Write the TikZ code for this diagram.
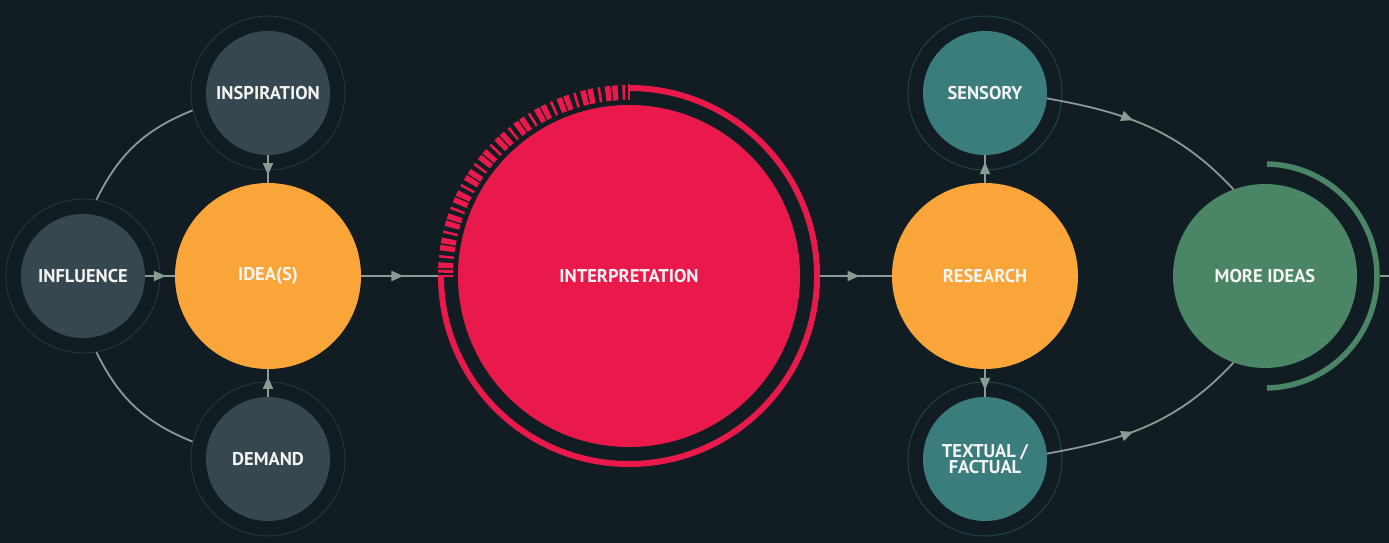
\documentclass[tikz,border=0pt]{standalone}
\usepackage{fontspec}
\setmainfont{PT Sans}
\usetikzlibrary{arrows.meta,decorations.markings}
\definecolor{bg}{HTML}{111D23}
\definecolor{greyc}{HTML}{374750}
\definecolor{orangec}{HTML}{F9A53A}
\definecolor{redc}{HTML}{E91A4B}
\definecolor{tealc}{HTML}{3B7D7C}
\definecolor{greenc}{HTML}{4A8566}
\definecolor{lin}{HTML}{8A9B93}
\definecolor{txt}{HTML}{F4F4F2}
\definecolor{hgrey}{HTML}{27353C}
\definecolor{hteal}{HTML}{1F4448}
\begin{document}
\begin{tikzpicture}[x=1pt,y=1pt,
  lbl/.style={text=txt, font=\bfseries\fontsize{18.5}{14}\selectfont, align=center},
  smallc/.style={circle, minimum size=124pt, inner sep=0pt, lbl},
  bigc/.style={circle, minimum size=186pt, inner sep=0pt, lbl},
  halo/.style={circle, minimum size=154pt, inner sep=0pt, fill=bg, draw=#1, line width=1pt},
  ghost/.style={circle, minimum size=#1, inner sep=0pt, outer sep=0pt},
  conn/.style={color=lin, line width=1.8pt},
  midarrow/.style={postaction={decorate}, decoration={markings, mark=at position #1 with {\arrow{Triangle[length=12pt,width=10pt]}}}},
]
\fill[bg] (0,0) rectangle (1389,543);
\useasboundingbox (0,0) rectangle (1389,543);

% halos
\node[halo=hgrey] (insp-h) at (268,450) {};
\node[halo=hgrey] (infl-h) at (83,267) {};
\node[halo=hgrey] (dem-h) at (268,84) {};
\node[halo=hteal] (sens-h) at (985,450) {};
\node[halo=hteal] (text-h) at (985,84) {};

% main circles
\node[smallc, fill=greyc] (insp) at (268,450) {INSPIRATION};
\node[smallc, fill=greyc] (infl) at (83,267) {INFLUENCE};
\node[smallc, fill=greyc] (dem) at (268,84) {DEMAND};
\node[bigc, fill=orangec] (idea) at (268,267) {IDEA(S)};
\node[circle, minimum size=342pt, inner sep=0pt, fill=redc, lbl] (interp) at (629,267) {INTERPRETATION};
\node[ghost=382pt] (ring) at (629,267) {};
\node[bigc, fill=orangec] (res) at (985,267) {RESEARCH};
\node[smallc, fill=tealc] (sens) at (985,450) {SENSORY};
\node[smallc, fill=tealc] (text) at (985,84) {TEXTUAL /\\FACTUAL};
\node[circle, minimum size=184pt, inner sep=0pt, fill=greenc, lbl] (more) at (1265,267) {MORE IDEAS};
\node[ghost=230pt] (more-r) at (1265,267) {};
\coordinate (edge) at (1389,267);

% interpretation ring
\draw[redc, line width=6pt] ([shift={(90:188)}]interp.center) arc[start angle=90, end angle=-180, radius=188];
\draw[redc, line width=15pt, dash pattern=on 2.5pt off 4.5pt on 5.5pt off 1.5pt on 5.5pt off 4.5pt, dash phase=-4pt]
  ([shift={(90:183.5)}]interp.center) arc[start angle=90, end angle=179, radius=183.5];
\draw[redc, line width=2.5pt] ([shift={(90:176)}]interp.center) -- ([shift={(90:191.5)}]interp.center);
\draw[redc, line width=2.5pt] ([shift={(180:176)}]interp.center) -- ([shift={(180:191.5)}]interp.center);

% more ideas ring
\draw[greenc, line width=5.5pt] ([shift={(-89:112)}]more.center) arc[start angle=-89, end angle=89, radius=112];

% connectors
\draw[conn] (infl-h.80) to[bend left=21] (insp-h.193);
\draw[conn] (infl-h.280) to[bend right=21] (dem-h.167);
\draw[conn, midarrow=0.72] (insp.south) -- (idea.north);
\draw[conn, midarrow=0.72] (dem.north) -- (idea.south);
\draw[conn, midarrow=0.7] (infl.east) -- (idea.west);
\draw[conn, midarrow=0.55] (idea.east) -- (ring.west);
\draw[conn, midarrow=0.55] (ring.east) -- (res.west);
\draw[conn, midarrow=0.75] (res.north) -- (sens.south);
\draw[conn, midarrow=0.75] (res.south) -- (text.north);
\draw[conn, midarrow=0.42] (sens.-5) to[out=-10,in=133] (more.110);
\draw[conn, midarrow=0.42] (text.5) to[out=10,in=-133] (more.250);
\draw[conn] (more-r.east) -- (edge);
\end{tikzpicture}
\end{document}
